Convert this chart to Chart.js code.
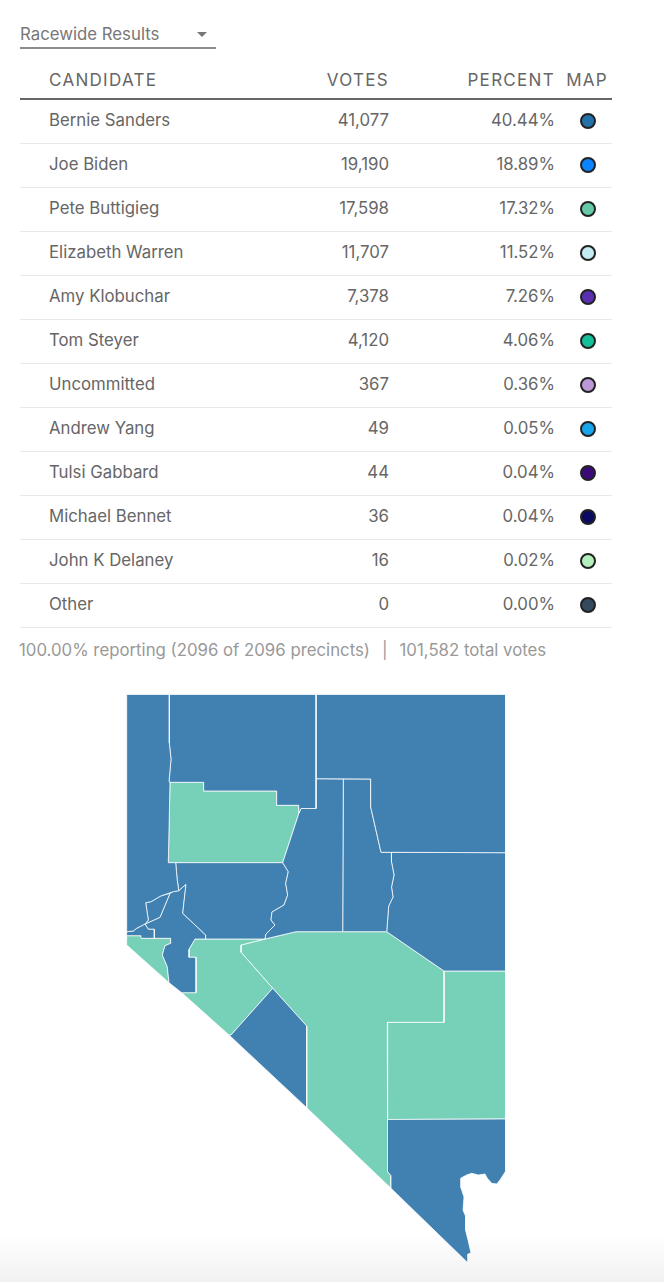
<!DOCTYPE html>
<html>
<head>
<meta charset="utf-8">
<title>Racewide Results</title>
<script src="https://cdn.jsdelivr.net/npm/chart.js@4"></script>
<style>
  html, body { margin: 0; padding: 0; }
  body {
    width: 664px;
    height: 1282px;
    position: relative;
    overflow: hidden;
    color: #666;
    font-family: Inter, sans-serif;
    font-size: 16.8px;
    background: linear-gradient(to bottom, #fff 0, #fff 1235px, #f1f1f1 1282px);
  }
  .select {
    position: absolute;
    left: 20px;
    top: 22px;
    width: 196px;
    height: 25px;
    line-height: 24px;
    color: #777;
    border-bottom: 2px solid #8c8c8c;
  }
  .select:after {
    content: '';
    position: absolute;
    left: 177px;
    top: 10px;
    border-left: 5.5px solid transparent;
    border-right: 5.5px solid transparent;
    border-top: 5px solid #777;
  }
  table {
    position: absolute;
    left: 20px;
    top: 59px;
    width: 592px;
    table-layout: fixed;
    border-collapse: collapse;
  }
  th {
    height: 37px;
    padding: 2px 0 0;
    font-size: 17px;
    font-weight: 400;
    letter-spacing: 1.3px;
    border-bottom: 2px solid #666;
  }
  td {
    height: 40px;
    padding: 0 0 3px;
    border-bottom: 1px solid #e8e8e8;
  }
  .name { padding-left: 29px; text-align: left; }
  .num { text-align: right; }
  .dot-cell { text-align: right; padding-right: 16px; }
  th.num { letter-spacing: 1.3px; }
  th.dot-cell { padding-right: 4px; }
  .dot {
    display: inline-block;
    width: 12px;
    height: 12px;
    border: 2px solid #222;
    border-radius: 50%;
    vertical-align: middle;
  }
  .foot {
    position: absolute;
    left: 19px;
    top: 640px;
    line-height: 20px;
    color: #999;
  }
  .foot span { margin: 0 12px; }
  #map { position: absolute; left: 0; top: 680px; }
</style>
</head>
<body>
<div class="select">Racewide Results</div>
<table id="results"></table>
<div class="foot">100.00% reporting (2096 of 2096 precincts)<span>|</span>101,582 total votes</div>
<canvas id="map" width="664" height="602"></canvas>
<script>
// table data
var headers = ['CANDIDATE', 'VOTES', 'PERCENT', 'MAP'];
var candidates = ['Bernie Sanders', 'Joe Biden', 'Pete Buttigieg', 'Elizabeth Warren', 'Amy Klobuchar', 'Tom Steyer', 'Uncommitted', 'Andrew Yang', 'Tulsi Gabbard', 'Michael Bennet', 'John K Delaney', 'Other'];
var votes = ['41,077', '19,190', '17,598', '11,707', '7,378', '4,120', '367', '49', '44', '36', '16', '0'];
var percents = ['40.44%', '18.89%', '17.32%', '11.52%', '7.26%', '4.06%', '0.36%', '0.05%', '0.04%', '0.04%', '0.02%', '0.00%'];
var dotColors = ['#2271a8', '#0a84ff', '#66c9a8', '#c4ecf4', '#5a2fb0', '#14bf9c', '#bb98d8', '#17a5ec', '#3c0a78', '#0a0a60', '#b4f0bc', '#34495e'];

// county outlines, map units: x east, y south
var washoe = [[126.7,694.5],[169.3,694.5],[169.3,743],[171,759.3],[169,781.7],[170,782.3],[168.3,862.7],[175.7,862.7],[177,878],[178.7,890.7],[173.3,891.7],[160.7,896],[151,901.7],[145.7,902.7],[148.3,920],[145,924],[136.7,928.3],[133.3,931],[126.7,931.7]];
var humboldt = [[169.3,694.5],[316,694.5],[316,808.5],[301,808.5],[299,813],[298.7,805.3],[276.7,805.3],[276.7,791],[203.7,791],[203.7,782.3],[170,782.3],[169,781.7],[171,759.3],[169.3,743]];
var elko = [[316,694.5],[505.7,694.5],[505.7,852.7],[391.3,852.3],[381,852.3],[370.7,807],[370.7,779],[316,778.7]];
var pershing = [[170,782.3],[203.7,782.3],[203.7,791],[276.7,791],[276.7,805.3],[298.7,805.3],[299,813],[282.7,862.7],[168.3,862.7]];
var lander = [[316,778.7],[343.3,779],[342.7,931.7],[296,931.7],[265,939],[266,934],[275,925],[271,920],[272,912],[284,905],[287.7,895],[285.7,883.3],[288.3,871.7],[282.7,862.7],[299,813],[301,808.5],[316,808.5]];
var eureka = [[343.3,779],[370.7,779],[370.7,807],[381,852.3],[391.3,852.3],[391.5,862],[394,875],[391.5,887],[393,897],[388.7,906],[386.7,931.7],[342.7,931.7]];
var whitePine = [[391.3,852.3],[505.7,852.7],[505.7,971],[444,971],[386.7,931.7],[388.7,906],[393,897],[391.5,887],[394,875],[391.5,862]];
var churchill = [[175.7,862.7],[282.7,862.7],[288.3,871.7],[285.7,883.3],[287.7,895],[284,905],[272,912],[271,920],[275,925],[266,934],[265,939],[205.7,939],[205.7,935],[182.7,913.3],[186,884.3],[178.7,890.7],[177,878]];
var storey = [[145.7,902.7],[151,901.7],[160.7,896],[170,893.3],[160,917.3],[145,924],[148.3,920]];
var carson = [[126.7,931.7],[133.3,931],[136.7,928.3],[145,924],[148.3,929.3],[154.3,929.3],[154.3,938.3],[141.7,938.3],[141,935.7],[126.7,935.7]];
var douglas = [[126.7,935.7],[141,935.7],[141.7,938.3],[170.7,938.3],[170.7,943.3],[165,945.7],[162.3,955],[167.3,966.7],[169,982.7],[126.7,945]];
var lyon = [[173.3,891.7],[178.7,890.7],[186,884.3],[182.7,913.3],[205.7,935],[205.7,939],[195,939],[189,949.3],[189,957.3],[196,957.3],[196,992.7],[181.7,992.7],[169,982.7],[167.3,966.7],[162.3,955],[165,945.7],[170.7,943.3],[170.7,938.3],[154.3,938.3],[154.3,929.3],[148.3,929.3],[145,924],[160,917.3],[170,893.3]];
var mineral = [[195,939],[205.7,939],[265,939],[241,945],[241,952.3],[272.7,988.3],[231,1035],[229,1035],[181.7,992.7],[196,992.7],[196,957.3],[189,957.3],[189,949.3]];
var nye = [[241,945],[265,939],[296,931.7],[386.7,931.7],[444,971],[444,1022.3],[387.3,1022.3],[387.5,1119.5],[387.7,1171.7],[391,1175.7],[391,1188.3],[306.7,1107.7],[306.7,1026],[272.7,988.3],[241,952.3]];
var esmeralda = [[272.7,988.3],[306.7,1026],[306.7,1107.7],[229,1035],[231,1035]];
var lincoln = [[444,971],[505.7,971],[505.7,1119],[387.5,1119.5],[387.3,1022.3],[444,1022.3]];
var clark = [[387.5,1119.5],[505.7,1119],[505.7,1171],[500,1180],[496.7,1184],[491.7,1183.3],[487.3,1178.3],[485,1174],[478.3,1175],[471.7,1173.3],[466.7,1175],[461,1178],[461,1188],[464,1197],[463,1210],[465.5,1216],[465.5,1230],[468,1240],[471,1253],[468,1254],[468,1263],[391,1188.3],[391,1175.7],[387.7,1171.7]];

var sandersCounties = [washoe, humboldt, elko, lander, eureka, whitePine, churchill, storey, carson, lyon, esmeralda, clark];
var buttigiegCounties = [pershing, douglas, mineral, nye, lincoln];

// fill in the results table
(function() {
  var table = document.getElementById('results');
  var classes = ['name', 'num', 'num', 'dot-cell'];
  var widths = [260, 109, 166, 57];
  var html = '<colgroup>';
  widths.forEach(function(w) { html += '<col style="width:' + w + 'px">'; });
  html += '</colgroup><tr>';
  headers.forEach(function(h, i) { html += '<th class="' + classes[i] + '">' + h + '</th>'; });
  html += '</tr>';
  candidates.forEach(function(name, i) {
    html += '<tr><td class="name">' + name + '</td><td class="num">' + votes[i] + '</td><td class="num">' + percents[i] + '</td>';
    html += '<td class="dot-cell"><span class="dot" style="background:' + dotColors[i] + '"></span></td></tr>';
  });
  table.innerHTML = html;
})();

//  draw map
(function() {
  function countyDataset(outline, color) {
    var points = outline.concat([outline[0]]).map(function(p) {
      return { x: p[0], y: p[1] };
    });
    return {
      data: points,
      showLine: true,
      fill: 'shape',
      tension: 0,
      pointRadius: 0,
      borderWidth: 1,
      borderColor: 'rgba(255,255,255,0.75)',
      backgroundColor: color
    };
  }
  var datasets = [];
  sandersCounties.forEach(function(c) { datasets.push(countyDataset(c, '#4081b2')); });
  buttigiegCounties.forEach(function(c) { datasets.push(countyDataset(c, '#76d1b8')); });

  new Chart(document.getElementById('map'), {
    type: 'scatter',
    data: { datasets: datasets },
    options: {
      responsive: false,
      animation: false,
      events: [],
      layout: { padding: 0 },
      plugins: { legend: { display: false }, tooltip: { enabled: false } },
      scales: {
        x: { type: 'linear', display: false, min: 0, max: 664 },
        y: { type: 'linear', display: false, min: 680, max: 1282, reverse: true }
      }
    }
  });
})();
</script>
</body>
</html>
